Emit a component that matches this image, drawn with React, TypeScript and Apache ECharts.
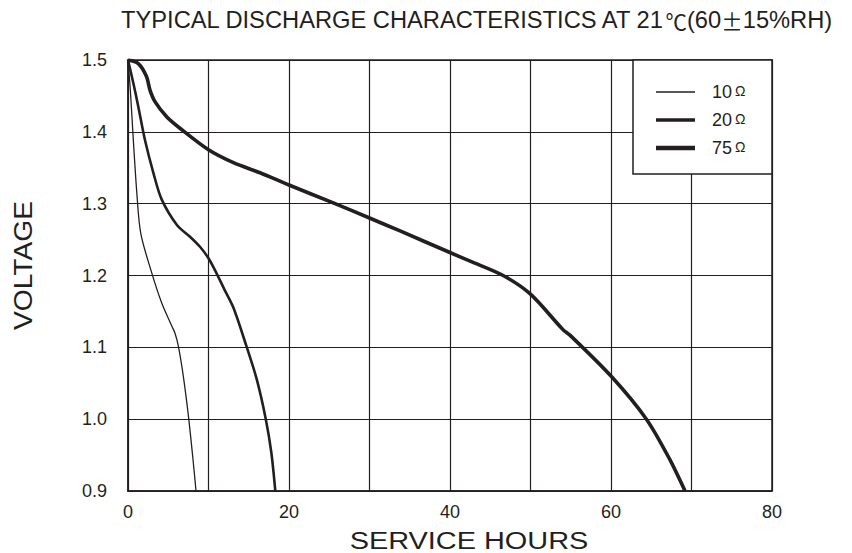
import React, { useEffect, useRef } from "react";
import * as echarts from "echarts";

const seriesNames = ["10Ω", "20Ω", "75Ω"];
const lineWidths = [1.3, 2.6, 3.6];
const legendIconHeights = [1.3, 3.4, 4.4];

const hours10 = [0, 0.29, 0.66, 1.07, 1.58, 2.94, 4.18, 5.42, 5.83, 6.25, 6.87, 7.5, 8.03, 8.45];
const volts10 = [1.5, 1.458, 1.389, 1.319, 1.259, 1.204, 1.162, 1.13, 1.12, 1.102, 1.06, 1.005, 0.949, 0.9];

const hours20 = [0, 0.66, 1.28, 2.1, 3.15, 4.18, 6.1, 7.7, 8.94, 10, 11, 12, 13.1, 14.7, 15.98, 17.1, 17.8, 18.3];
const volts20 = [1.5, 1.468, 1.435, 1.389, 1.343, 1.306, 1.27, 1.254, 1.24, 1.224, 1.203, 1.18, 1.155, 1.102, 1.056, 1.001, 0.954, 0.9];

const hours75 = [0, 1.28, 2.3, 2.73, 3.35, 4.8, 6.45, 10, 13.1, 16.4, 20, 25.5, 30, 33.8, 40, 42.5, 46.6, 50, 54, 54.9, 60, 64.4, 67.3, 69.2];
const volts75 = [1.5, 1.495, 1.477, 1.458, 1.442, 1.421, 1.405, 1.375, 1.357, 1.343, 1.326, 1.301, 1.28, 1.262, 1.232, 1.22, 1.2, 1.174, 1.125, 1.117, 1.06, 1.0, 0.944, 0.9];

const xTickLabels = [0, 20, 40, 60, 80];
const xAxisName = "SERVICE HOURS";
const yAxisName = "VOLTAGE";

const FONT = "'Liberation Sans', Arial, sans-serif";
const INK = "#231f20";

export default function App() {
  const ref = useRef<HTMLDivElement>(null);
  useEffect(() => {
    if (!ref.current) return;
    const chart = echarts.init(ref.current, undefined, { renderer: "svg" });
    const pairs = [
      hours10.map((h, i) => [h, volts10[i]]),
      hours20.map((h, i) => [h, volts20[i]]),
      hours75.map((h, i) => [h, volts75[i]]),
    ];
    chart.setOption({
      animation: false,
      backgroundColor: "#ffffff",
      title: {
        text: "{a|TYPICAL DISCHARGE CHARACTERISTICS AT 21}{b|℃}{a|(60}{b|±}{a|15%RH)}",
        left: 121,
        top: 8,
        padding: 0,
        textStyle: {
          fontWeight: "normal",
          rich: {
            a: { fontFamily: FONT, fontSize: 23.7, fontWeight: "normal", color: INK },
            b: { fontFamily: "'Noto Sans CJK SC'", fontSize: 21.5, fontWeight: "normal", color: INK },
          },
        },
      },
      grid: {
        left: 128,
        right: 80,
        top: 60,
        bottom: 62,
        outerBoundsMode: "none",
        containLabel: false,
        show: true,
        borderColor: INK,
        borderWidth: 1.5,
      },
      legend: {
        orient: "vertical",
        left: 656,
        top: 83,
        padding: 0,
        itemGap: 10,
        itemWidth: 39,
        itemHeight: 14,
        z: 10,
        itemStyle: { borderWidth: 0 },
        data: seriesNames.map((name, i) => ({
          name,
          icon: `path://M0,0H39V${legendIconHeights[i]}H0Z`,
          itemStyle: { color: INK, borderWidth: 0 },
        })),
        formatter: (name: string) => `{n|${name.slice(0, -1)}}{o|Ω}`,
        textStyle: {
          padding: [0, 0, 0, 12],
          rich: {
            n: { fontFamily: FONT, fontSize: 18, color: INK },
            o: { fontFamily: FONT, fontSize: 14, color: INK, padding: [0, 0, 2, 3] },
          },
        },
      },
      graphic: [
        {
          type: "rect",
          z: 5,
          shape: { x: 633, y: 60, width: 139, height: 114 },
          style: { fill: "#ffffff", stroke: INK, lineWidth: 1.5 },
        },
        {
          type: "text",
          x: 469,
          y: 540.5,
          scaleX: 1.18,
          style: {
            text: xAxisName,
            fontFamily: FONT,
            fontSize: 24.5,
            fill: INK,
            align: "center",
            verticalAlign: "middle",
          },
        },
        {
          type: "text",
          x: 24,
          y: 265.5,
          rotation: Math.PI / 2,
          scaleX: 1.13,
          style: {
            text: yAxisName,
            fontFamily: FONT,
            fontSize: 25,
            fill: INK,
            align: "center",
            verticalAlign: "middle",
          },
        },
      ],
      xAxis: {
        type: "value",
        min: 0,
        max: 80,
        interval: 10,
        axisLine: { show: true, lineStyle: { color: INK, width: 1.5 } },
        axisTick: { show: false },
        axisLabel: {
          fontFamily: FONT,
          fontSize: 18,
          color: INK,
          margin: 12,
          formatter: (v: number) => (xTickLabels.includes(v) ? String(v) : ""),
        },
        splitLine: { show: true, lineStyle: { color: INK, width: 1.2 } },
      },
      yAxis: {
        type: "value",
        min: 0.9,
        max: 1.5,
        interval: 0.1,
        axisLine: { show: true, lineStyle: { color: INK, width: 1.5 } },
        axisTick: { show: false },
        axisLabel: {
          fontFamily: FONT,
          fontSize: 18,
          color: INK,
          margin: 21,
          formatter: (v: number) => v.toFixed(1),
        },
        splitLine: { show: true, lineStyle: { color: INK, width: 1.2 } },
      },
      series: seriesNames.map((name, i) => ({
        name,
        type: "line",
        data: pairs[i],
        showSymbol: false,
        symbol: "none",
        smooth: 0.3,
        color: INK,
        lineStyle: { color: INK, width: lineWidths[i] },
        z: 3,
      })),
    });
    return () => chart.dispose();
  }, []);
  return (
    <div
      ref={ref}
      style={{ position: "fixed", left: 0, top: 0, width: 852, height: 553 }}
    />
  );
}
